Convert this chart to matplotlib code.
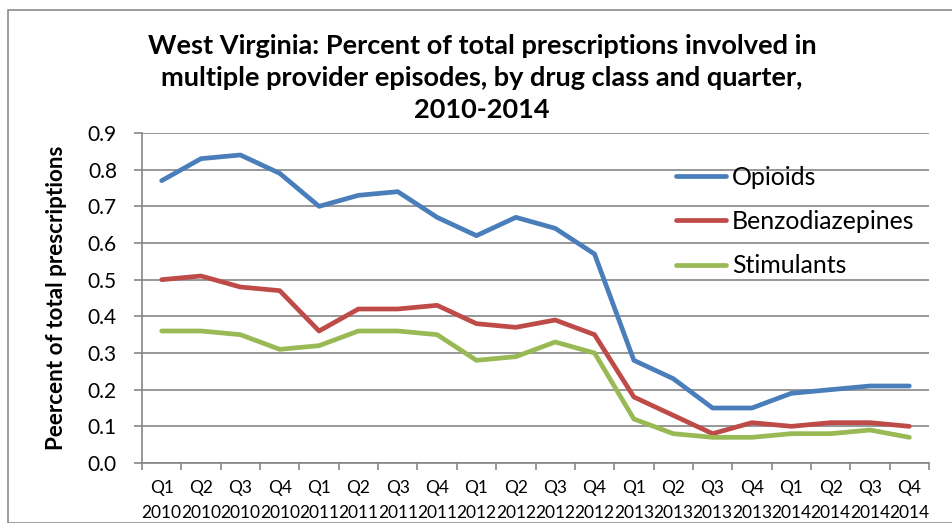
import matplotlib
matplotlib.use("Agg")
import matplotlib.pyplot as plt
from matplotlib.lines import Line2D
import numpy as np

quarters = ["Q1\n2010", "Q2\n2010", "Q3\n2010", "Q4\n2010",
            "Q1\n2011", "Q2\n2011", "Q3\n2011", "Q4\n2011",
            "Q1\n2012", "Q2\n2012", "Q3\n2012", "Q4\n2012",
            "Q1\n2013", "Q2\n2013", "Q3\n2013", "Q4\n2013",
            "Q1\n2014", "Q2\n2014", "Q3\n2014", "Q4\n2014"]
opioids = [0.77, 0.83, 0.84, 0.79, 0.70, 0.73, 0.74, 0.67, 0.62, 0.67,
           0.64, 0.57, 0.28, 0.23, 0.15, 0.15, 0.19, 0.20, 0.21, 0.21]
benzos = [0.50, 0.51, 0.48, 0.47, 0.36, 0.42, 0.42, 0.43, 0.38, 0.37,
          0.39, 0.35, 0.18, 0.13, 0.08, 0.11, 0.10, 0.11, 0.11, 0.10]
stimulants = [0.36, 0.36, 0.35, 0.31, 0.32, 0.36, 0.36, 0.35, 0.28, 0.29,
              0.33, 0.30, 0.12, 0.08, 0.07, 0.07, 0.08, 0.08, 0.09, 0.07]
series_names = ["Opioids", "Benzodiazepines", "Stimulants"]
colors = ["#4a7ebb", "#be4b48", "#98b954"]
yticks = [0.0, 0.1, 0.2, 0.3, 0.4, 0.5, 0.6, 0.7, 0.8, 0.9]

plt.rcParams['font.family'] = ['Lato', 'DejaVu Sans']

fig = plt.figure(figsize=(9.53, 5.23), dpi=100)
W, H = 953, 523
ax = fig.add_axes([142 / W, 1 - 463 / H, (929 - 142) / W, (463 - 133) / H])

x = np.arange(len(quarters))
for vals, name, c in zip([opioids, benzos, stimulants], series_names, colors):
    ax.plot(x, vals, color=c, lw=3.4, solid_capstyle='round', label=name, zorder=3)

ax.set_xlim(-0.5, len(quarters) - 0.5)
ax.set_ylim(0, 0.9)
ax.set_yticks(yticks)
ax.set_yticklabels([f"{v:.1f}" for v in yticks], fontsize=15)
ax.yaxis.grid(True, color="#868686", lw=1.2)
ax.set_axisbelow(True)

ax.set_xticks(np.arange(-0.5, len(quarters)), minor=False)
ax.set_xticklabels([])
ax.set_xticks(x, minor=True)
ax.set_xticklabels(quarters, minor=True, fontsize=12.5, linespacing=1.72)
ax.tick_params(axis='x', which='minor', length=0, pad=12)
ax.tick_params(axis='x', which='major', length=5, color="#868686", width=1.2, direction='out')
ax.tick_params(axis='y', length=6, color="#868686", width=1.2, pad=12)

for s in ['top', 'right']:
    ax.spines[s].set_visible(False)
for s in ['left', 'bottom']:
    ax.spines[s].set_color("#868686")
    ax.spines[s].set_linewidth(1.2)

ax.set_ylabel("Peercent of total prescriptions", fontsize=16.2, fontweight='bold')
ax.yaxis.set_label_coords(-(142 - 67) / (929 - 142), 0.5)

fig.text(482 / W, 1 - 78 / H,
         "West Virginia: Percent of total prescriptions involved in\n"
         "multiple provider episodes, by drug class and quarter,\n"
         "2010-2014",
         ha='center', va='center', fontsize=19.5, fontweight='bold', linespacing=1.4)

handles = [Line2D([0], [0], color=c, lw=3.4, solid_capstyle='round') for c in colors]
leg = ax.legend(handles, series_names, loc='upper left',
                bbox_to_anchor=((666 - 142) / (929 - 142), 1 - (156 - 133) / 330),
                frameon=False, fontsize=17.9, handlelength=2.0, handletextpad=0.25,
                labelspacing=0.85, borderaxespad=0)

fig.patches.append(plt.Rectangle((8 / W, 0 / H), 1.2, 1 - 10 / H - 0 / H,
                                 transform=fig.transFigure, fill=False,
                                 edgecolor="#8c8c8c", lw=1.2))

fig.savefig("out.png", dpi=100)
